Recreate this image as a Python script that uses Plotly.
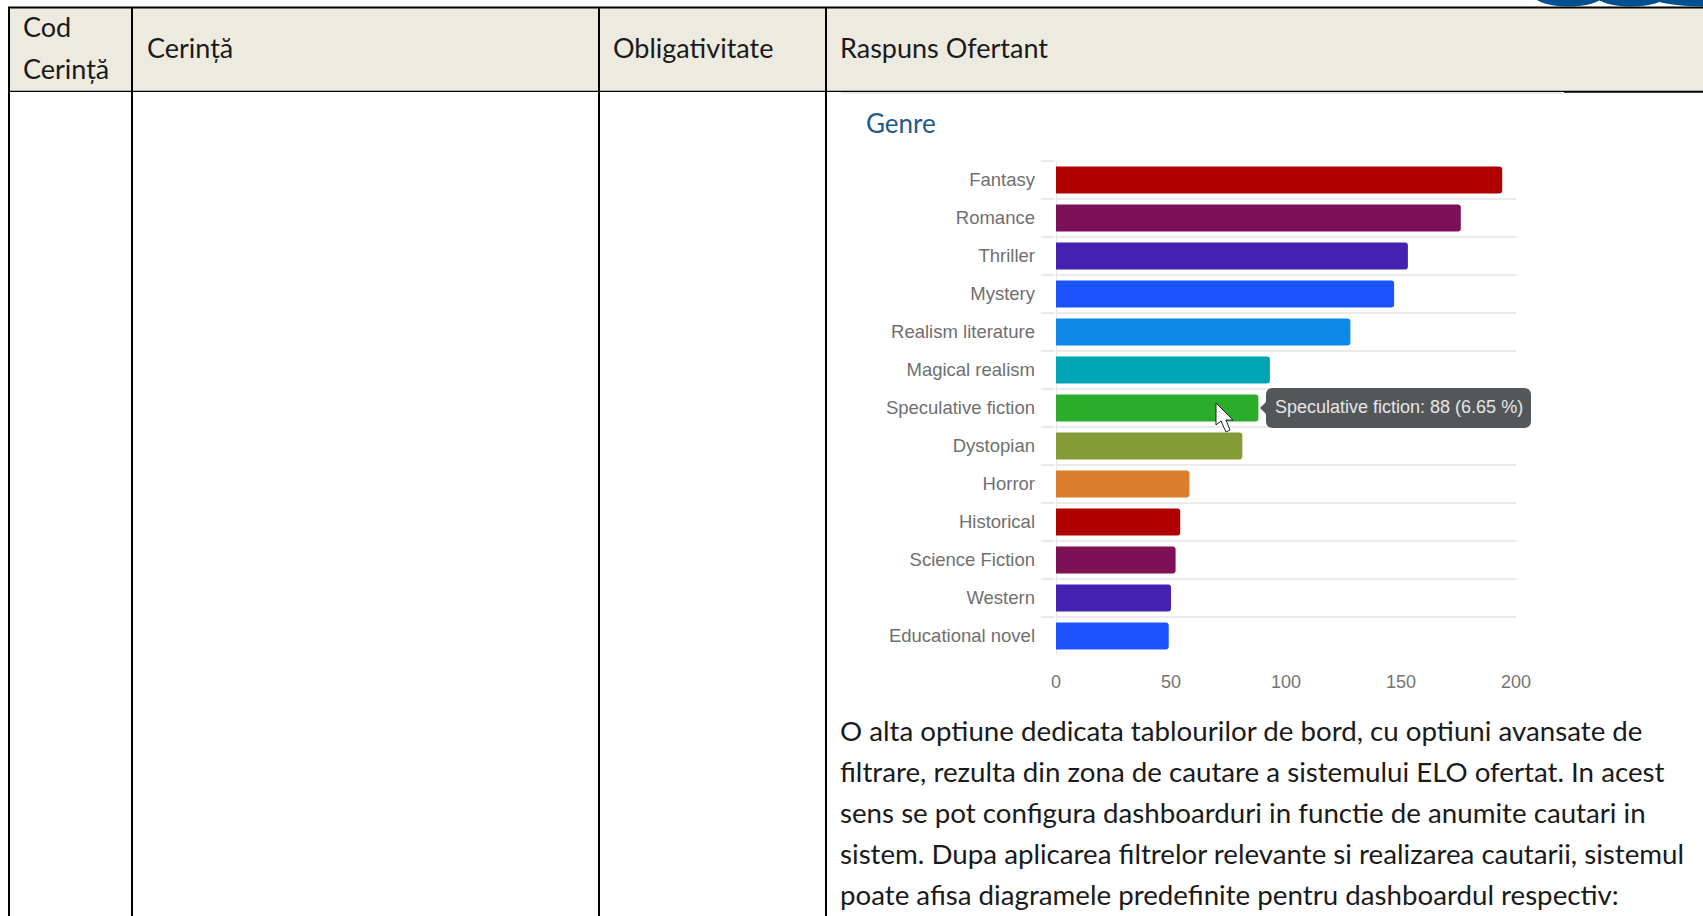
import plotly.graph_objects as go

W, H = 1703, 916

# ---- data ----
genres = ["Fantasy", "Romance", "Thriller", "Mystery", "Realism literature", "Magical realism",
          "Speculative fiction", "Dystopian", "Horror", "Historical", "Science Fiction",
          "Western", "Educational novel"]
counts = [194, 176, 153, 147, 128, 93, 88, 81, 58, 54, 52, 50, 49]
bar_colors = ["#b00000", "#7c1158", "#4421af", "#1a53ff", "#0d88e6", "#00a5b5", "#2bac2b",
              "#839c38", "#da7e2b", "#b00000", "#7c1158", "#4421af", "#1a53ff"]
x_ticks = [0, 50, 100, 150, 200]
tooltip_text = "Speculative fiction: 88 (6.65 %)"
title_text = "Genre"
header_cells = [("Cerință", 145, 47), ("Obligativitate", 611, 47), ("Raspuns Ofertant", 838, 47),
                ("Cod", 21, 27), ("Cerință", 21, 68)]
paragraph = ["O alta optiune dedicata tablourilor de bord, cu optiuni avansate de",
             "filtrare, rezulta din zona de cautare a sistemului ELO ofertat. In acest",
             "sens se pot configura dashboarduri in functie de anumite cautari in",
             "sistem. Dupa aplicarea filtrelor relevante si realizarea cautarii, sistemul",
             "poate afisa diagramele predefinite pentru dashboardul respectiv:"]
column_edges = [9, 132, 599, 826]

# ---- helpers: page pixels -> paper fractions ----
def fx(x):
    return x / W

def fy(y):
    return 1 - y / H

def rect(x0, y0, x1, y1, color, layer="below"):
    return dict(type="rect", xref="paper", yref="paper", x0=fx(x0), x1=fx(x1), y0=fy(y0), y1=fy(y1),
                fillcolor=color, line_width=0, layer=layer)

def path(points, fill, line=None, width=0):
    d = "M " + " L ".join(f"{fx(x):.5f},{fy(y):.5f}" for x, y in points) + " Z"
    return dict(type="path", xref="paper", yref="paper", path=d, fillcolor=fill,
                line=dict(color=line or fill, width=width), layer="above")

def rounded_tip(x0, y0, x1, y1, r, tip):
    ym = (y0 + y1) / 2
    c = lambda x, y: f"{fx(x):.5f},{fy(y):.5f}"
    d = (f"M {c(x0 + r, y0)} L {c(x1 - r, y0)} Q {c(x1, y0)} {c(x1, y0 + r)} "
         f"L {c(x1, y1 - r)} Q {c(x1, y1)} {c(x1 - r, y1)} L {c(x0 + r, y1)} "
         f"Q {c(x0, y1)} {c(x0, y1 - r)} L {c(x0, ym + tip)} L {c(x0 - tip, ym)} L {c(x0, ym - tip)} "
         f"L {c(x0, y0 + r)} Q {c(x0, y0)} {c(x0 + r, y0)} Z")
    return dict(type="path", xref="paper", yref="paper", path=d, fillcolor="#54575a",
                line_width=0, layer="above")

def circle(x0, y0, x1, y1, color):
    return dict(type="circle", xref="paper", yref="paper", x0=fx(x0), x1=fx(x1), y0=fy(y0), y1=fy(y1),
                fillcolor=color, line_width=0, layer="below")

def text(s, x, y, size, color="#1a1a1a", family="Lato", anchor="left"):
    return dict(text=s, xref="paper", yref="paper", x=fx(x), y=fy(y), xanchor=anchor, yanchor="middle",
                showarrow=False, font=dict(family=family, size=size, color=color))

fig = go.Figure(go.Bar(
    y=genres, x=counts, orientation="h", marker=dict(color=bar_colors, line_width=0),
    width=0.71, showlegend=False, hoverinfo="skip",
))

shapes = [
    # logo fragment peeking above the header
    circle(1535, -14, 1602, 6.5, "#00508f"), circle(1597, -14, 1665, 6.5, "#00508f"),
    circle(1650, -14, 1760, 6.5, "#00508f"),
    # header band
    rect(9, 8, W, 91, "#edebe0"),
    rect(841, 92, 1564, 94, "#ececf0"),
    # table rules
    rect(8, 6.5, W, 8.5, "#000000"),
    rect(8, 90.8, 1564, 92, "#000000"),
    rect(1564, 90.8, W, 92.8, "#000000"),
]
for edge in column_edges:
    shapes.append(rect(edge - 1, 7, edge + 1, H, "#000000"))
shapes.append(rect(827, 92, 841, 93, "#ffffff"))

# tooltip + mouse pointer
shapes.append(rounded_tip(1266, 388, 1531, 428, 7, 6))
shapes.append(path([(1216, 403), (1216, 425), (1221, 421), (1226, 432), (1230, 430),
                    (1226, 420), (1233, 420)], "#ffffff", "#222222", 1))

annotations = [text(s, x, y, 27) for s, x, y in header_cells]
annotations += [text(line, 838, 730.5 + i * 41, 27.7) for i, line in enumerate(paragraph)]
annotations.append(text(title_text, 864, 123, 26, color="#1f5a8f"))
annotations.append(text(tooltip_text, 1273, 407, 18, color="#e6e6e6",
                        family="Liberation Sans"))

fig.update_layout(
    width=W, height=H, autosize=False,
    margin=dict(l=0, r=0, t=0, b=0, pad=0, autoexpand=False),
    paper_bgcolor="#ffffff", plot_bgcolor="#ffffff",
    barcornerradius=3,
    shapes=shapes, annotations=annotations,
    xaxis=dict(domain=[fx(1056), fx(1516)], range=[0, 200], tickvals=x_ticks, showgrid=False,
               zeroline=True, zerolinecolor="#e6e6e6", zerolinewidth=1,
               showline=False, ticks="", ticklabelstandoff=14,
               tickfont=dict(family="Liberation Sans", size=18, color="#747474")),
    yaxis=dict(domain=[fy(655), fy(161)], categoryorder="array", categoryarray=genres,
               autorange="reversed", tickson="boundaries", showgrid=True, gridcolor="#ebebeb",
               gridwidth=2, ticks="outside", ticklen=14, tickcolor="#ebebeb", tickwidth=2,
               showline=False, zeroline=False, ticklabelstandoff=20,
               tickfont=dict(family="Liberation Sans", size=18.5, color="#6f6f6f")),
)

fig.write_html("out.html", config={"displayModeBar": False},
               post_script="document.body.style.margin='0';document.body.style.overflow='hidden';")
